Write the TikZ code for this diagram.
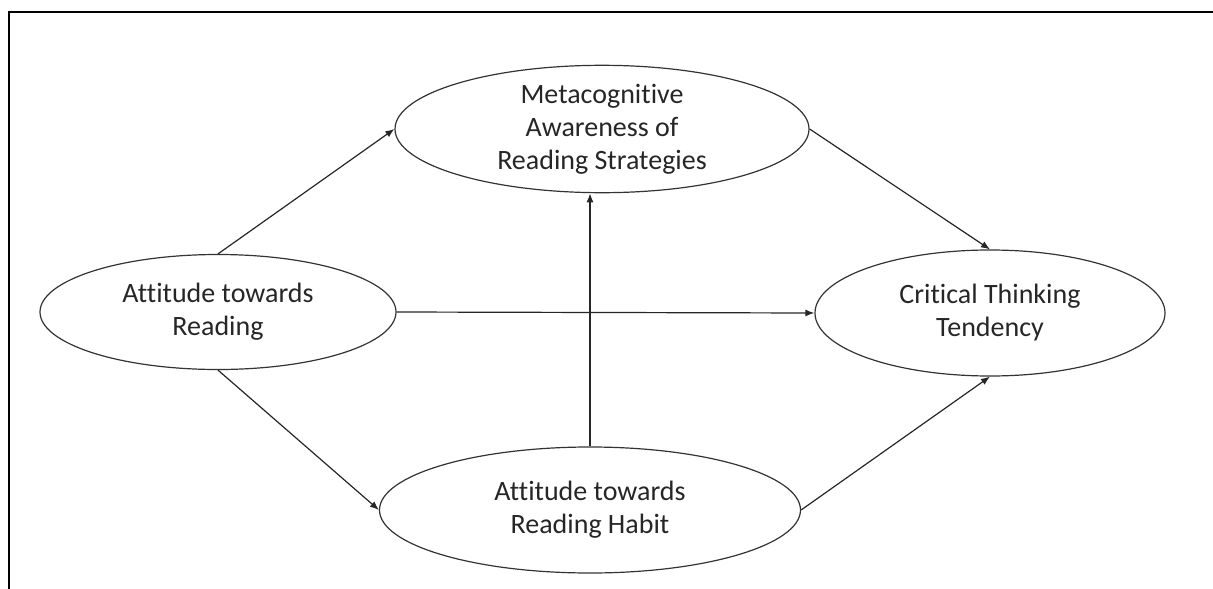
\documentclass[tikz,border=0pt]{standalone}
\usepackage{fontspec}
\setmainfont{Carlito}[Ligatures=NoCommon]
\usetikzlibrary{shapes.geometric,arrows.meta}
\begin{document}
\begin{tikzpicture}[x=1pt,y=-1pt,
		var/.style={ellipse, draw=black!80, line width=1.2pt, align=center, inner sep=0pt, text=black!85, font=\fontsize{28}{33}\selectfont},
		link/.style={-{Latex[length=9pt,width=7pt]}, line width=1.2pt, draw=black!85}]
		\useasboundingbox (0,0) rectangle (1213,589);
		\draw[line width=2.2pt] (9,589) -- (9,12) -- (1213,12);
		\node[var, minimum width=356, minimum height=115] (atr) at (218,312) {Attitude towards\\Reading};
		\node[var, minimum width=414, minimum height=126] (mars) at (602,129) {Metacognitive\\Awareness of\\Reading Strategies};
		\node[var, minimum width=421, minimum height=126] (arh) at (590,510) {Attitude towards\\Reading Habit};
		\node[var, minimum width=350, minimum height=126] (ctt) at (990,313) {Critical Thinking\\Tendency};
		\draw[link] (atr.north) -- (mars.west);
		\draw[link] (atr.east) -- (ctt.west);
		\draw[link] (atr.south) -- (arh.west);
		\draw[link] (arh.north) -- (arh.north |- mars.south);
		\draw[link] (mars.east) -- (ctt.north);
		\draw[link] (arh.east) -- (ctt.south);
	\end{tikzpicture}
\end{document}
